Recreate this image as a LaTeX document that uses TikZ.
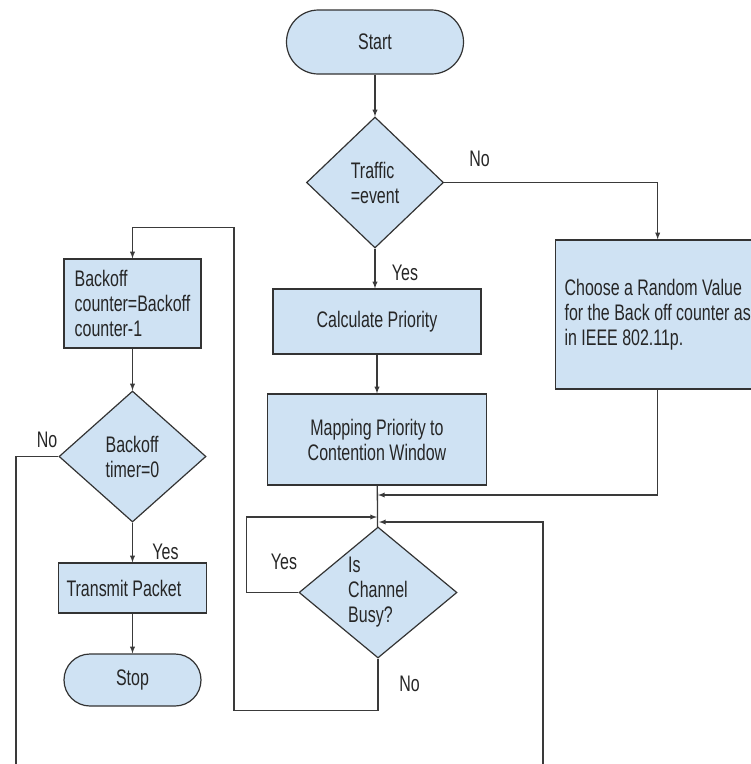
\documentclass[tikz,border=0pt]{standalone}
\usepackage{fontspec}
\setmainfont{Liberation Sans}[FakeStretch=0.71]
\usepackage{tikz}
\usetikzlibrary{arrows}
\usetikzlibrary{shapes}
\definecolor{boxfill}{HTML}{CFE2F3}
\definecolor{linegray}{HTML}{3A3A3A}
\newcommand\plainspace{\spaceskip=0pt\xspaceskip=0pt\relax}

\begin{document}
\begin{tikzpicture}[x=1pt, y=-1pt, >=latex,
   every node/.style={font=\fontsize{22.5}{25}\selectfont, text=black!85},
   terminal/.style={draw=black!80, fill=boxfill, line width=1.2pt},
   process/.style={draw=black!80, fill=boxfill, line width=1.2pt, align=center},
   decision/.style={draw=black!80, fill=boxfill, diamond, aspect=1.2, inner sep=0pt, line width=1.2pt, align=left},
   flow/.style={draw=linegray, line width=1.3pt}]
   \useasboundingbox (0,0) rectangle (751,764);
   \node[terminal, minimum width=177pt, minimum height=64pt, rounded corners=32pt] (start) at (375,42) {Start};
   \node[decision, minimum width=137pt, minimum height=131pt] (traffic) at (375,182.5) {Traffic\\=event};
   \node[process, minimum width=208pt, minimum height=65pt] (calc) at (377,321.5) {Calculate Priority};
   \node[process, minimum width=219pt, minimum height=91pt] (map) at (377,439.5) {Mapping Priority to\\Contention Window};
   \node[process, anchor=west, minimum height=149pt, inner xsep=9pt, align=left] (random) at (555,314.5) {Choose a Random Value\\for the Back off counter as\\in IEEE 802.11p.};
   \node[decision, minimum width=158pt, minimum height=131pt] (busy) at (378,592.5) {Is\\Channel\\Busy?};
   \node[process, minimum width=137pt, minimum height=89pt, align=left] (backoff) at (132.5,303.5) {Backoff\\counter=Backoff\\counter-1};
   \node[decision, minimum width=147pt, minimum height=131pt] (timer) at (132.5,456.5) {Backoff\\timer=0};
   \node[process, minimum width=148pt, minimum height=50pt, text width=132pt, inner xsep=8pt, align=left] (transmit) at (132.5,588) {\plainspace Transmit Packet};
   \node[terminal, minimum width=137pt, minimum height=52pt, rounded corners=26pt] (stop) at (132.5,680) {Stop};
   \node (notraffic) at (479.5,159) {No};
   \node (yestraffic) at (405,273) {Yes};
   \node (yesbusy) at (284,562) {Yes};
   \node (nobusy) at (409.5,684) {No};
   \node (notimer) at (47,440) {No};
   \node (yestimer) at (165.5,552) {Yes};
   \coordinate (merge) at (378,495);
   \coordinate (loopin) at (377,517);
   \coordinate (backin) at (379,522);
   \coordinate (backend) at (543,770);
   \coordinate (noend) at (16,770);
   \draw[flow,->] (start) -- (traffic);
   \draw[flow,->] (traffic.east) -| (random.north);
   \draw[flow,->] (traffic.south) -- (traffic.south |- calc.north);
   \draw[flow,->] (calc) -- (map);
   \draw[flow] (map) -- (busy);
   \draw[flow,->] (random.south) |- (merge);
   \draw[flow,->] (busy.west) -- ++(-52,0) |- (loopin);
   \draw[flow,->] (backend) |- (backin);
   \draw[flow,->] (busy.south) -- ++(0,52) -| ++(-144,-483) -| (backoff.north);
   \draw[flow,->] (backoff) -- (timer);
   \draw[flow] (timer.west) -| (noend);
   \draw[flow,->] (timer) -- (transmit);
   \draw[flow,->] (transmit) -- (stop);
\end{tikzpicture}
\end{document}
